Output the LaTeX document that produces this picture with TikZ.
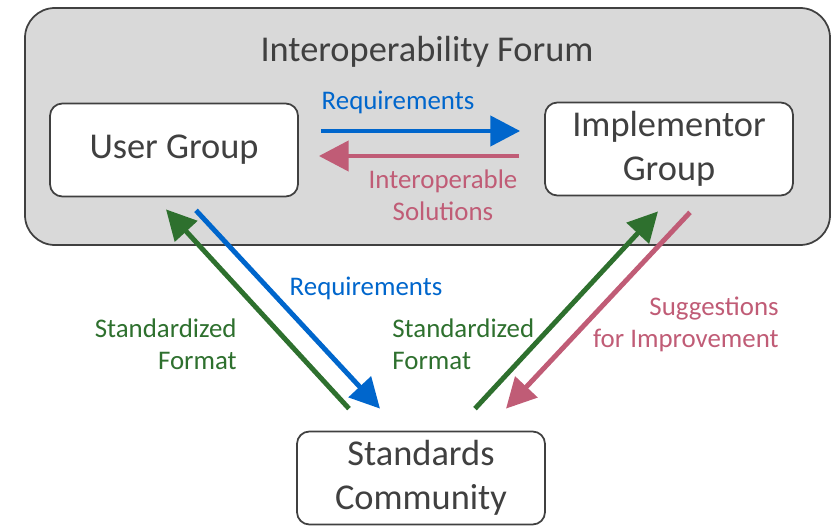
\documentclass[tikz,border=0pt]{standalone}
\usepackage{fontspec}
\setmainfont{Carlito}
\usetikzlibrary{calc,arrows.meta}
\definecolor{reqblue}{RGB}{0,102,204}
\definecolor{solpink}{RGB}{192,92,118}
\definecolor{stdgreen}{RGB}{46,112,46}
\definecolor{forumgray}{RGB}{217,217,217}
\definecolor{txtgray}{RGB}{64,64,64}

\begin{document}
\begin{tikzpicture}[x=0.02cm,y=-0.02cm,
    group/.style={draw=txtgray,line width=1pt,rounded corners=7pt,fill=white,
        minimum width=4.96cm,minimum height=1.86cm,align=center,text=txtgray,
        font=\fontsize{20.7}{25}\selectfont},
    flow/.style={line width=2.8pt,-{Triangle[length=17pt,width=17pt]}},
    lbl/.style={font=\fontsize{15.3}{18.2}\selectfont,inner sep=0pt}]
        \useasboundingbox (0,0) rectangle (838,527);
        % Interoperability Forum
        \draw [draw=txtgray,fill=forumgray,line width=1pt,rounded corners=17pt] (25,8) rectangle (830,245);
        \node [text=txtgray,font=\fontsize{20.7}{25}\selectfont] (forum) at (427,52) {Interoperability Forum};
        % Gruppen
        \node [group] (ug) at (174,150) {User Group};
        \node [group] (ig) at (669,149) {Implementor\\Group};
        \node [group] (sc) at (421,478) {Standards\\Community};
        % Endpunkte der Pfeile
        \coordinate (reqA) at ($(ug.east)+(22,-19)$);
        \coordinate (reqB) at ($(ig.west)+(-24,-18)$);
        \coordinate (solA) at ($(ig.west)+(-25,7)$);
        \coordinate (solB) at ($(ug.east)+(20,6)$);
        \coordinate (stdA) at ($(sc.north)+(-72,-22)$);
        \coordinate (stdB) at ($(ug.south)+(-8,12)$);
        \coordinate (reqC) at ($(ug.south)+(22,13)$);
        \coordinate (reqD) at ($(sc.north)+(-41,-22)$);
        \coordinate (stdC) at ($(sc.north)+(54,-22)$);
        \coordinate (stdD) at ($(ig.south)+(-11,15)$);
        \coordinate (sugA) at ($(ig.south)+(21,16)$);
        \coordinate (sugB) at ($(sc.north)+(85,-22)$);
        % Pfeile
        \draw [flow,reqblue] (reqA) -- (reqB);
        \draw [flow,solpink] (solA) -- (solB);
        \draw [flow,stdgreen] (stdA) -- (stdB);
        \draw [flow,reqblue] (reqC) -- (reqD);
        \draw [flow,stdgreen] (stdC) -- (stdD);
        \draw [flow,solpink] (sugA) -- (sugB);
        % Beschriftungen
        \node [lbl,text=reqblue] (reqtop) at (398,102) {Requirements};
        \node [lbl,text=solpink,align=center] (sol) at (443,195) {Interoperable\\Solutions};
        \node [lbl,text=reqblue] (reqdiag) at (366,288) {Requirements};
        \node [lbl,text=stdgreen,align=right,anchor=east] (stdleft) at (237,344) {Standardized\\Format};
        \node [lbl,text=stdgreen,align=left,anchor=west] (stdmid) at (392,344) {Standardized\\Format};
        \node [lbl,text=solpink,align=right,anchor=east] (sug) at (779,324) {Suggestions\\for Improvement};
    \end{tikzpicture}
\end{document}
